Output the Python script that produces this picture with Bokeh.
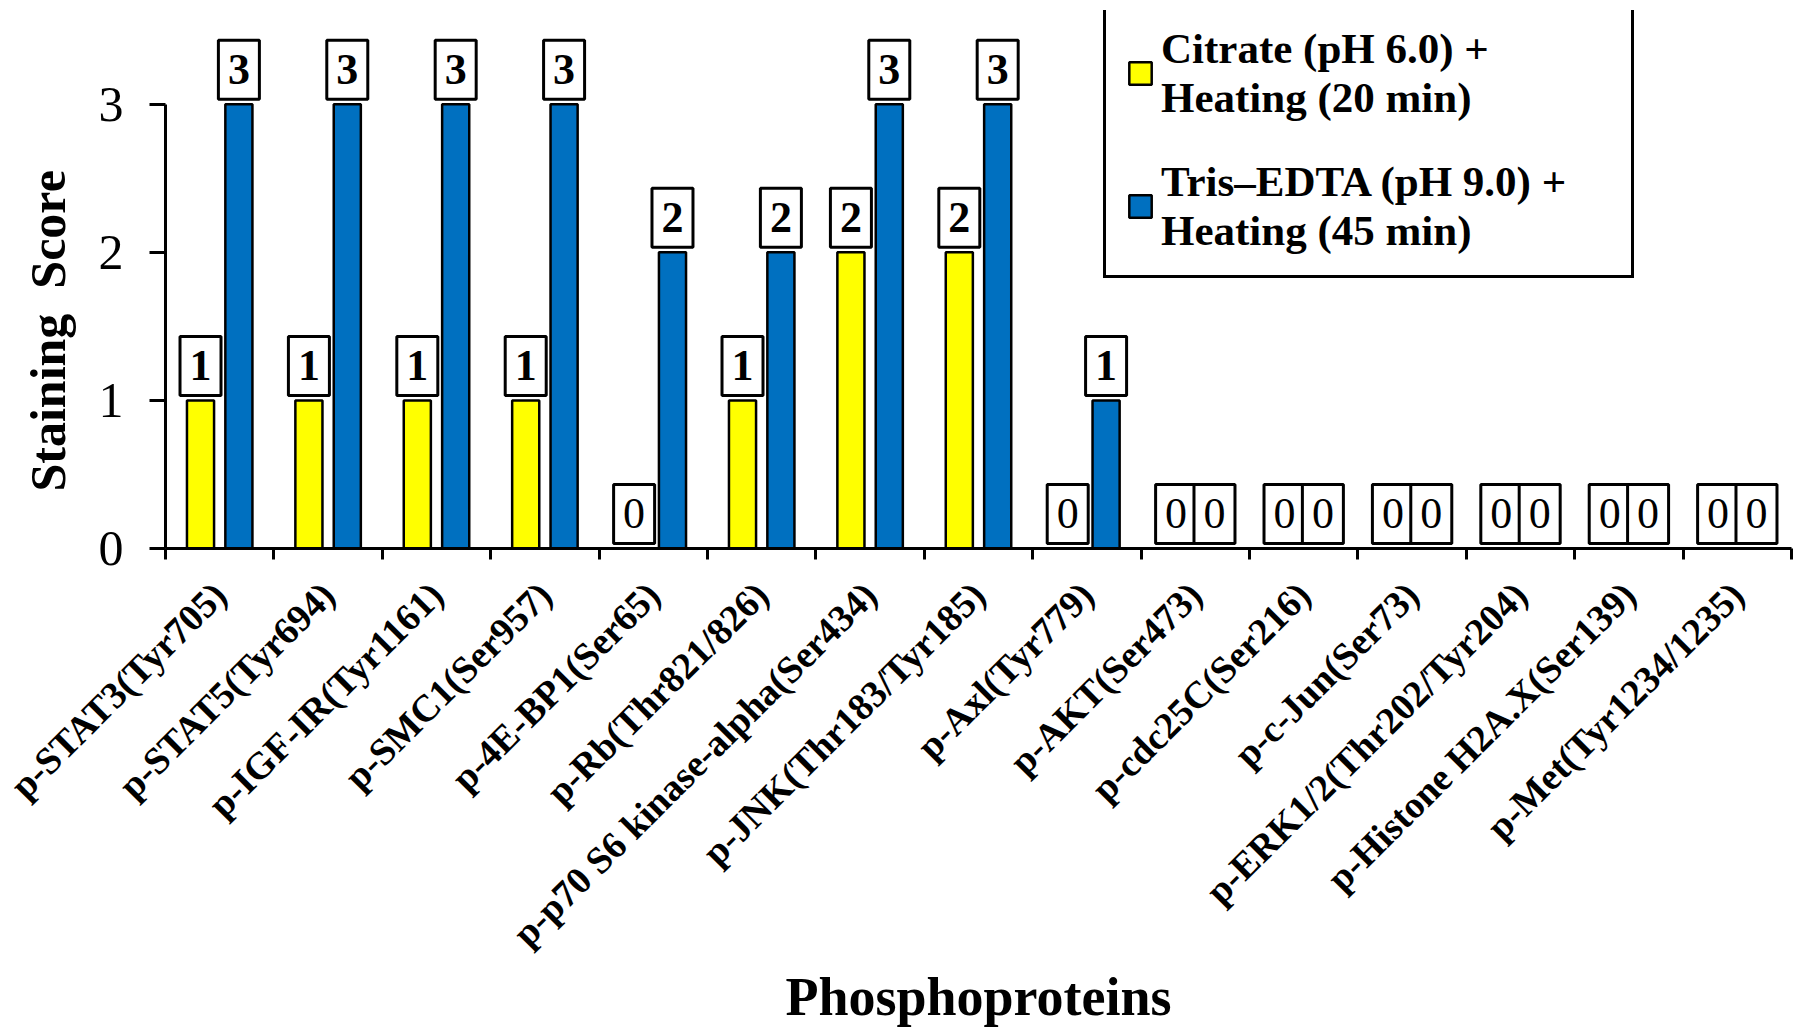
import math
from bokeh.plotting import figure
from bokeh.models import ColumnDataSource, Range1d, FixedTicker, Legend, LegendItem, Title
from bokeh.core.properties import value, field
from bokeh.embed import file_html
from bokeh.resources import INLINE

# ---------------- data ----------------
proteins = [
    "p-STAT3(Tyr705)", "p-STAT5(Tyr694)", "p-IGF-IR(Tyr1161)", "p-SMC1(Ser957)",
    "p-4E-BP1(Ser65)", "p-Rb(Thr821/826)", "p-p70 S6 kinase-alpha(Ser434)",
    "p-JNK(Thr183/Tyr185)", "p-Axl(Tyr779)", "p-AKT(Ser473)", "p-cdc25C(Ser216)",
    "p-c-Jun(Ser73)", "p-ERK1/2(Thr202/Tyr204)", "p-Histone H2A.X(Ser139)",
    "p-Met(Tyr1234/1235)",
]
citrate = [1, 1, 1, 1, 0, 1, 2, 2, 0, 0, 0, 0, 0, 0, 0]
tris_edta = [3, 3, 3, 3, 2, 2, 3, 3, 1, 0, 0, 0, 0, 0, 0]
series_names = ["Citrate (pH 6.0) +\nHeating (20 min)",
                "Tris\u2013EDTA (pH 9.0) +\nHeating (45 min)"]
y_ticks = [0, 1, 2, 3]
x_title = "Phosphoproteins"
y_title = "Staining\u00a0 Score"

# ---------------- style ----------------
FONT = "Liberation Serif"
YELLOW = "#FFFF00"
BLUE = "#0070C0"
OFF = 0.177      # dodge of each bar from category centre (category units)
BW = 0.25        # bar width (category units)
LBL_UP = 0.233   # label box centre above bar top (data units)

n = len(proteins)
centers = [i + 0.5 for i in range(n)]
boundaries = list(range(n + 1))

p = figure(width=1800, height=1030,
           x_range=Range1d(0, n), y_range=Range1d(0, 3.633),
           output_backend="svg", toolbar_location=None,
           min_border_left=165, min_border_right=9,
           min_border_top=10, min_border_bottom=479)
p.xgrid.visible = False
p.ygrid.visible = False
p.outline_line_color = None
p.background_fill_color = "white"
p.border_fill_color = "white"


def make_source(vals, shift):
    return ColumnDataSource(dict(
        x=[c + shift for c in centers],
        top=vals,
        label=[str(v) for v in vals],
        style=["bold" if v > 0 else "normal" for v in vals],
        ly=[v + LBL_UP for v in vals],
    ))


src_c = make_source(citrate, -OFF)
src_t = make_source(tris_edta, OFF)

r_c = p.vbar(x="x", top="top", width=BW, source=src_c,
             fill_color=YELLOW, line_color="black", line_width=2.5)
r_t = p.vbar(x="x", top="top", width=BW, source=src_t,
             fill_color=BLUE, line_color="black", line_width=2.5)

for src in (src_c, src_t):
    p.rect(x="x", y="ly", width=41, height=59, width_units="screen",
           height_units="screen", source=src, fill_color="white",
           line_color="black", line_width=3)
    p.text(x="x", y="ly", text="label", source=src, text_align="center",
           text_baseline="middle", text_font=value(FONT),
           text_font_size="44px", text_font_style=field("style"),
           text_color="black")

# ---------------- axes ----------------
ya = p.yaxis[0]
ya.ticker = FixedTicker(ticks=y_ticks)
ya.bounds = (y_ticks[0], y_ticks[-1])
ya.axis_line_width = 3
ya.major_tick_line_width = 3
ya.major_tick_out = 16
ya.major_tick_in = 0
ya.minor_tick_line_color = None
ya.major_label_text_font = FONT
ya.major_label_text_font_size = "50px"
ya.major_label_text_color = "black"
ya.major_label_standoff = 26

# y title, starting near the bottom of the 0..3 axis span
p.add_layout(Title(text=y_title, align="left", vertical_align="top",
                   offset=57, standoff=36,
                   text_font=FONT, text_font_style="bold",
                   text_font_size="50px", text_color="black"), "left")

xa = p.xaxis[0]
xa.ticker = FixedTicker(ticks=centers, minor_ticks=boundaries)
xa.axis_line_width = 3
xa.major_tick_out = 0
xa.major_tick_in = 0
xa.major_tick_line_color = None
xa.minor_tick_out = 11
xa.minor_tick_in = 0
xa.minor_tick_line_width = 3
xa.minor_tick_line_color = "black"
xa.major_label_overrides = {c: name for c, name in zip(centers, proteins)}
xa.major_label_orientation = math.pi / 4
xa.major_label_text_font = FONT
xa.major_label_text_font_style = "bold"
xa.major_label_text_font_size = "38px"
xa.major_label_text_color = "black"
xa.major_label_standoff = 29
xa.axis_label = x_title
xa.axis_label_text_font = FONT
xa.axis_label_text_font_style = "bold"
xa.axis_label_text_font_size = "54px"
xa.axis_label_text_color = "black"
xa.axis_label_standoff = -5

# ---------------- legend ----------------
legend = Legend(
    items=[LegendItem(label=series_names[0], renderers=[r_c]),
           LegendItem(label=series_names[1], renderers=[r_t])],
    location=(938, 270),
    border_line_color="black", border_line_width=3, border_line_alpha=1,
    background_fill_color="white", background_fill_alpha=1,
    padding=20, spacing=35, margin=0,
    glyph_width=28, glyph_height=28, label_standoff=7,
    label_width=450,
    label_text_font=FONT, label_text_font_style="bold",
    label_text_font_size="43px", label_text_line_height=1.15,
    label_text_color="black",
)
p.add_layout(legend)

open("out.html", "w").write(file_html(p, INLINE))
